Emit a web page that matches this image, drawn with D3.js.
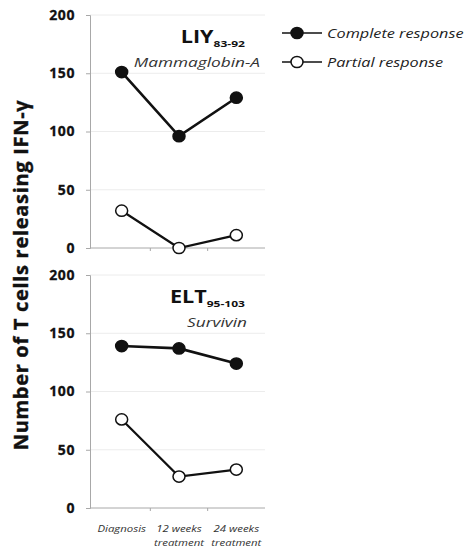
<!DOCTYPE html>
<html>
<head>
<meta charset="utf-8">
<script src="https://cdn.jsdelivr.net/npm/d3@7"></script>
<style>
  body { margin: 0; background: #fff; }
  svg { display: block; }
</style>
</head>
<body>
<div id="chart"></div>
<script>
// time points on the x axis (two lines each)
const timepoints = ["Diagnosis", "12 weeks|treatment", "24 weeks|treatment"];
const yTicks = [0, 50, 100, 150, 200];

// values
const liyComplete = [151, 96, 129];
const liyPartial = [32, 0, 11];
const eltComplete = [139, 137, 124];
const eltPartial = [76, 27, 33];

const panels = [
  {peptide: "LIY", sub: "83-92", antigen: "Mammaglobin-A", complete: liyComplete, partial: liyPartial, top: 15, bottom: 248},
  {peptide: "ELT", sub: "95-103", antigen: "Survivin", complete: eltComplete, partial: eltPartial, top: 275, bottom: 508}
];

const W = 467, H = 554;
const axisX = 90, plotRight = 265;
const font = "'Open Sans', 'Liberation Sans', sans-serif";

const svg = d3.select("#chart").append("svg")
    .attr("width", W)
    .attr("height", H);

const x = d3.scaleBand()
    .domain(timepoints)
    .range([93, plotRight])
    .paddingInner(0);

// the source picture is stretched sideways, so text gets a x-scale
function wideText(sel, tx, ty, sx) {
  return sel.append("text")
    .attr("transform", `translate(${tx},${ty}) scale(${sx},1)`)
    .attr("font-family", font);
}

panels.forEach(function (p) {
  const y = d3.scaleLinear().domain([0, 200]).range([p.bottom, p.top]);
  const g = svg.append("g");

  // gridlines
  g.selectAll(".grid")
    .data(yTicks.filter(d => d > 0))
    .join("line")
    .attr("x1", axisX).attr("x2", plotRight)
    .attr("y1", d => y(d)).attr("y2", d => y(d))
    .attr("stroke", "#ececec")
    .attr("stroke-width", 1);

  // y axis
  const yAxis = g.append("g")
    .attr("transform", `translate(${axisX},0)`)
    .call(d3.axisLeft(y).tickValues(yTicks).tickSize(4).tickPadding(11));
  yAxis.select(".domain").attr("stroke", "#a8a8a8");
  yAxis.selectAll(".tick line").attr("stroke", "#a8a8a8");
  yAxis.selectAll(".tick text")
    .attr("font-family", font)
    .attr("font-weight", "bold")
    .attr("font-size", 14)
    .attr("letter-spacing", 0.6)
    .attr("fill", "#111")
    .attr("stroke", "#111")
    .attr("stroke-width", 0.3);

  // x axis: ticks on band boundaries
  g.append("line")
    .attr("x1", axisX).attr("x2", plotRight)
    .attr("y1", p.bottom).attr("y2", p.bottom)
    .attr("stroke", "#a8a8a8");
  g.selectAll(".xt")
    .data(timepoints.slice(1))
    .join("line")
    .attr("x1", d => x(d)).attr("x2", d => x(d))
    .attr("y1", p.bottom).attr("y2", p.bottom + 3)
    .attr("stroke", "#a8a8a8");

  const line = d3.line()
    .x((d, i) => x(timepoints[i]) + x.bandwidth() / 2)
    .y(d => y(d));

  [p.partial, p.complete].forEach(function (vals, k) {
    const filled = k === 1;
    g.append("path")
      .datum(vals)
      .attr("fill", "none")
      .attr("stroke", "#111")
      .attr("stroke-width", filled ? 2.6 : 2.2)
      .attr("d", line);
    g.selectAll(null)
      .data(vals)
      .join("ellipse")
      .attr("cx", (d, i) => x(timepoints[i]) + x.bandwidth() / 2)
      .attr("cy", d => y(d))
      .attr("rx", 6)
      .attr("ry", 5.6)
      .attr("fill", filled ? "#111" : "#fff")
      .attr("stroke", "#111")
      .attr("stroke-width", 1.5);
  });

  // panel title
  const t = wideText(g, 245, y(200) + 28, 1.27)
    .attr("text-anchor", "end")
    .attr("font-weight", "bold")
    .attr("fill", "#111");
  t.append("tspan").attr("font-size", 17).text(p.peptide);
  t.append("tspan").attr("font-size", 9.5).attr("dy", 4).text(p.sub);

  wideText(g, p.peptide === "LIY" ? 260 : 247, y(200) + 52, 1.38)
    .attr("text-anchor", "end")
    .attr("font-style", "italic")
    .attr("font-size", 12.5)
    .attr("fill", "#333")
    .text(p.antigen);
});

// x labels under the lower panel
timepoints.forEach(function (d) {
  const t = wideText(svg, x(d) + x.bandwidth() / 2, 532, 1.2)
    .attr("text-anchor", "middle")
    .attr("font-style", "italic")
    .attr("font-size", 9.5)
    .attr("fill", "#333");
  t.selectAll("tspan")
    .data(d.split("|"))
    .join("tspan")
    .attr("x", 0)
    .attr("dy", (s, i) => i === 0 ? 0 : 14)
    .text(s => s);
});

// y axis title
svg.append("text")
  .attr("transform", "translate(28,275) rotate(-90)")
  .attr("text-anchor", "middle")
  .attr("font-family", font)
  .attr("font-weight", "bold")
  .attr("font-size", 20)
  .attr("letter-spacing", 0.7)
  .attr("fill", "#111")
  .attr("stroke", "#111")
  .attr("stroke-width", 0.4)
  .text("Number of T cells releasing IFN-\u03b3");

// legend
const legendItems = [
  {label: "Complete response", filled: true, y: 33},
  {label: "Partial response", filled: false, y: 62}
];
const lg = svg.append("g");
legendItems.forEach(function (it) {
  lg.append("line")
    .attr("x1", 282).attr("x2", 322)
    .attr("y1", it.y).attr("y2", it.y)
    .attr("stroke", "#111").attr("stroke-width", 1.5);
  lg.append("ellipse")
    .attr("cx", 297).attr("cy", it.y).attr("rx", 6).attr("ry", 5.6)
    .attr("fill", it.filled ? "#111" : "#fff")
    .attr("stroke", "#111").attr("stroke-width", 1.5);
  wideText(lg, 327, it.y + 4.5, 1.3)
    .attr("font-style", "italic")
    .attr("font-size", 12.5)
    .attr("fill", "#222")
    .text(it.label);
});
</script>
</body>
</html>
